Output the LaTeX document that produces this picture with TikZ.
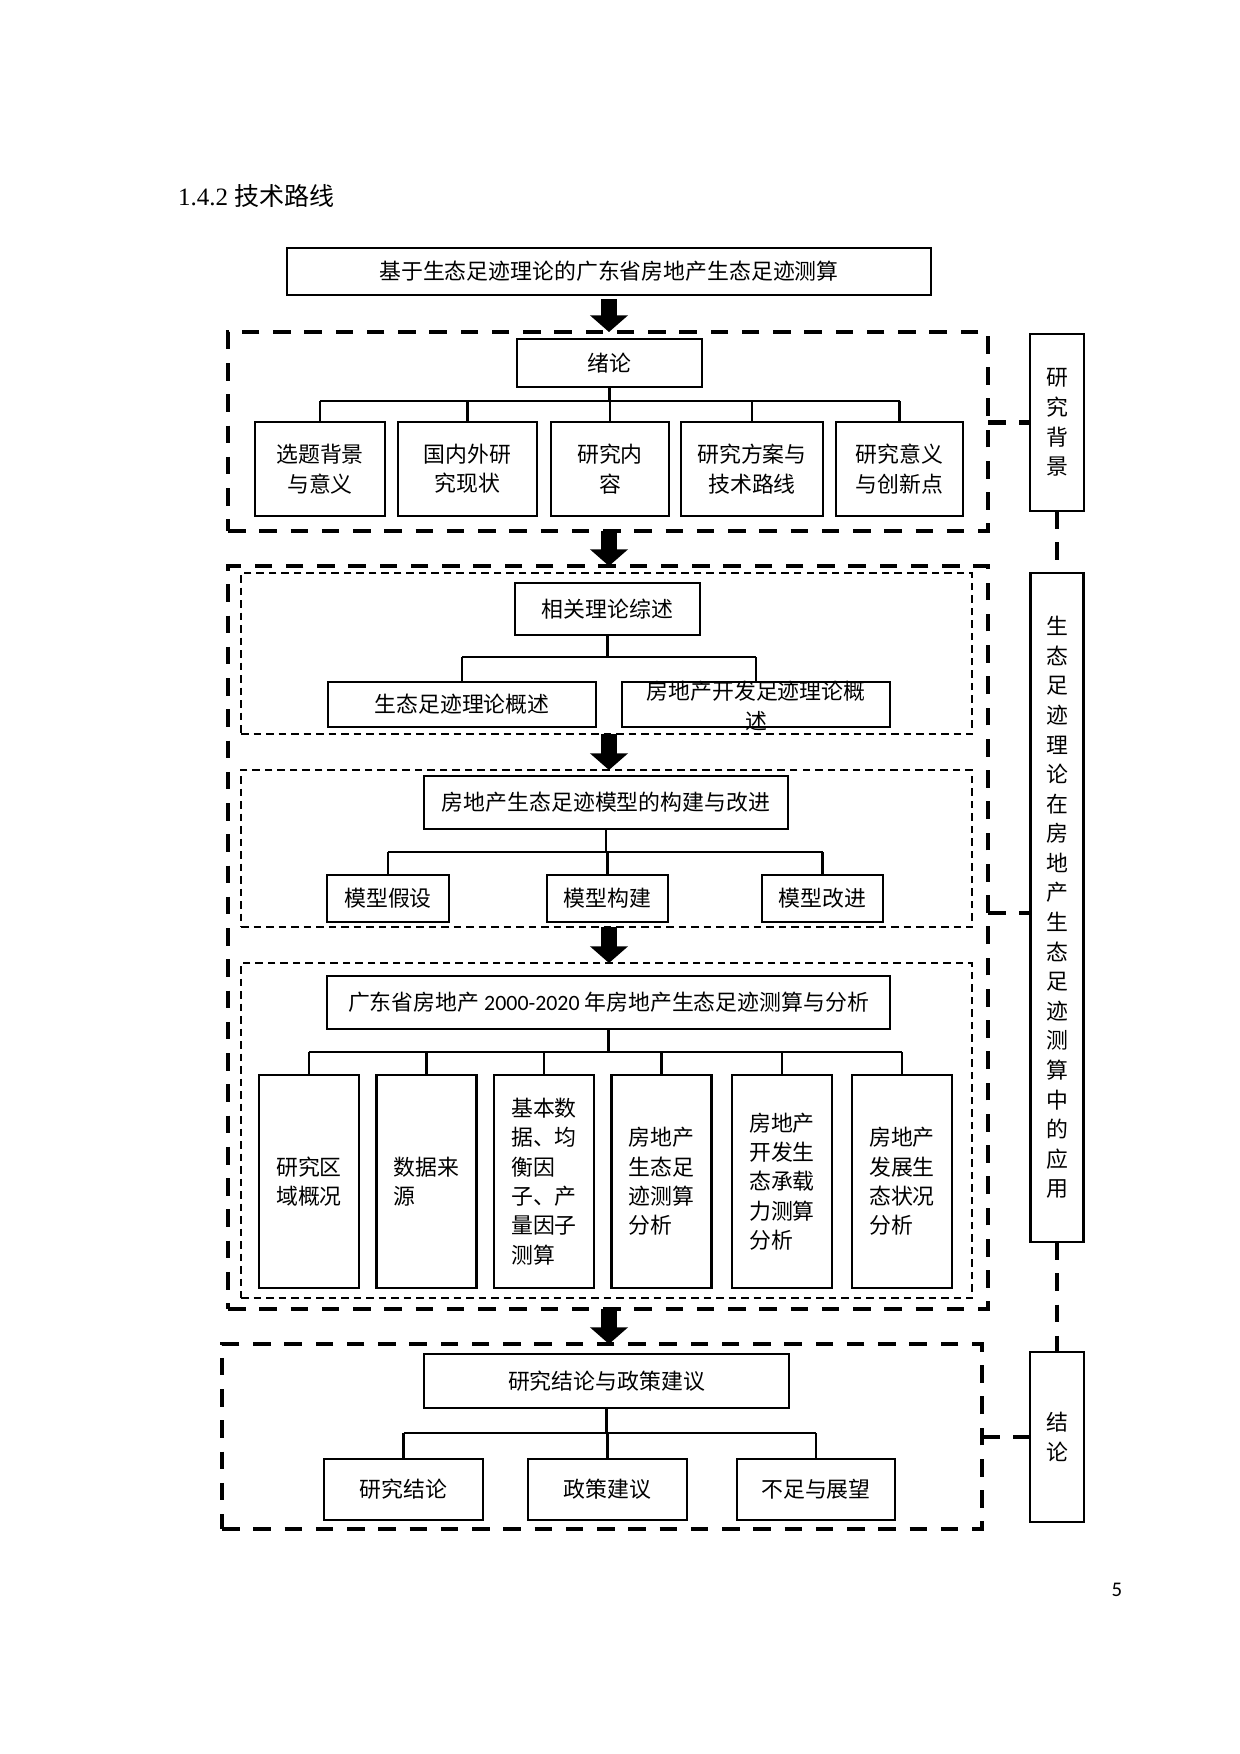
\documentclass[tikz,border=0pt]{standalone}
\usepackage{fontspec}
\setmainfont{Liberation Serif}
\newfontfamily\cjk{Noto Sans CJK SC}
\newfontfamily\calib{Carlito}
\usetikzlibrary{arrows.meta}
\def\pxu{0.48pt}
\begin{document}
\begin{tikzpicture}[x=0.48pt,y=-0.48pt,
  every node/.style={inner sep=0pt, outer sep=0pt},
  txt/.style={font=\cjk\fontsize{10.5}{14.1}\selectfont},
  box/.style={draw, line width=1pt, txt, align=center},
  lbox/.style={draw, line width=1pt, txt, align=left},
  vbox/.style={draw, line width=1pt, font=\cjk\fontsize{10.5}{14.2}\selectfont, align=center},
  thickdash/.style={draw, line width=2pt, dash pattern=on 8.5pt off 6.5pt},
  thindash/.style={draw, line width=0.75pt, dash pattern=on 3.6pt off 2.4pt},
  sidedash/.style={line width=2pt, dash pattern=on 8.5pt off 6.5pt},
  conn/.style={line width=1pt},
  bigarrow/.style={line width=7.6pt, -{Triangle[width=17.8pt,length=8pt]}}
]
\fill[white] (0,0) rectangle (1240,1754);
\useasboundingbox (0,0) rectangle (1240,1754);

% heading and page number
\node[anchor=base west, font=\fontsize{12}{14}\selectfont] (heading) at (178,205) {1.4.2 {\cjk 技术路线}};
\node[anchor=base, font=\calib\fontsize{10}{12}\selectfont] (pnum) at (1117,1596) {5};

% title
\node[box, minimum width=644*\pxu, minimum height=47*\pxu] (title) at (609,271.5) {基于生态足迹理论的广东省房地产生态足迹测算};

% ---------- block 1 ----------
\node[thickdash, minimum width=760*\pxu, minimum height=199*\pxu] (b1) at (608,431.5) {};
\node[box, minimum width=185*\pxu, minimum height=48*\pxu] (xulun) at (609.5,363) {绪论};
\node[box, minimum width=130*\pxu, minimum height=94*\pxu] (c11) at (320,469) {选题背景\\与意义};
\node[box, minimum width=139*\pxu, minimum height=94*\pxu] (c12) at (467.5,469) {国内外研\\究现状};
\node[box, minimum width=118*\pxu, minimum height=94*\pxu] (c13) at (610,469) {研究内\\容};
\node[box, minimum width=142*\pxu, minimum height=94*\pxu] (c14) at (752,469) {研究方案与\\技术路线};
\node[box, minimum width=127*\pxu, minimum height=94*\pxu] (c15) at (899.5,469) {研究意义\\与创新点};
\coordinate (bar1) at (609,401);
\draw[conn] (xulun.south) -- (xulun.south |- bar1);
\draw[conn] (bar1 -| c11.north) -- (bar1 -| c15.north);
\foreach \c in {c11,c12,c13,c14,c15} \draw[conn] (bar1 -| \c.north) -- (\c.north);

% ---------- block 2 ----------
\node[thickdash, minimum width=760*\pxu, minimum height=743*\pxu] (b2) at (608,937.5) {};

% inner A
\node[thindash, minimum width=731*\pxu, minimum height=161*\pxu] (iA) at (606.5,653.5) {};
\node[box, minimum width=185*\pxu, minimum height=52*\pxu] (lilun) at (607.5,609) {相关理论综述};
\node[box, minimum width=268*\pxu, minimum height=45*\pxu] (r1) at (462,704.5) {生态足迹理论概述};
\node[draw, line width=1pt, minimum width=268*\pxu, minimum height=45*\pxu] (r2) at (756,704.5) {};
\node[txt, align=center] (r2t) at (756,706) {房地产开发足迹理论概\\述};
\coordinate (bar2) at (607.5,657);
\draw[conn] (lilun.south) -- (lilun.south |- bar2);
\draw[conn] (bar2 -| r1.north) -- (bar2 -| r2.north);
\foreach \c in {r1,r2} \draw[conn] (bar2 -| \c.north) -- (\c.north);

% inner B
\node[thindash, minimum width=731*\pxu, minimum height=157*\pxu] (iB) at (606.5,848.5) {};
\node[box, minimum width=364*\pxu, minimum height=53*\pxu] (moxing) at (606,802.5) {房地产生态足迹模型的构建与改进};
\node[box, minimum width=122*\pxu, minimum height=47*\pxu] (m1) at (388,898.5) {模型假设};
\node[box, minimum width=121*\pxu, minimum height=47*\pxu] (m2) at (607.5,898.5) {模型构建};
\node[box, minimum width=121*\pxu, minimum height=47*\pxu] (m3) at (822.5,898.5) {模型改进};
\coordinate (bar3) at (606,852);
\draw[conn] (moxing.south) -- (moxing.south |- bar3);
\draw[conn] (bar3 -| m1.north) -- (bar3 -| m3.north);
\foreach \c in {m1,m2,m3} \draw[conn] (bar3 -| \c.north) -- (\c.north);

% inner C
\node[thindash, minimum width=731*\pxu, minimum height=335*\pxu] (iC) at (606.5,1130.5) {};
\node[box, minimum width=563*\pxu, minimum height=53*\pxu] (gd) at (608.5,1002.5) {广东省房地产 {\calib 2000-2020} 年房地产生态足迹测算与分析};
\node[lbox, minimum width=100*\pxu, minimum height=213*\pxu] (d1) at (309,1181.5) {研究区\\域概况};
\node[lbox, minimum width=100*\pxu, minimum height=213*\pxu] (d2) at (426.5,1181.5) {数据来\\源};
\node[lbox, minimum width=100*\pxu, minimum height=213*\pxu] (d3) at (544,1181.5) {基本数\\据、均\\衡因\\子、产\\量因子\\测算};
\node[lbox, minimum width=100*\pxu, minimum height=213*\pxu] (d4) at (661.5,1181.5) {房地产\\生态足\\迹测算\\分析};
\node[lbox, minimum width=100*\pxu, minimum height=213*\pxu] (d5) at (782,1181.5) {房地产\\开发生\\态承载\\力测算\\分析};
\node[lbox, minimum width=100*\pxu, minimum height=213*\pxu] (d6) at (902,1181.5) {房地产\\发展生\\态状况\\分析};
\coordinate (bar4) at (608.5,1052);
\draw[conn] (gd.south) -- (gd.south |- bar4);
\draw[conn] (bar4 -| d1.north) -- (bar4 -| d6.north);
\foreach \c in {d1,d2,d3,d4,d5,d6} \draw[conn] (bar4 -| \c.north) -- (\c.north);

% ---------- block 3 ----------
\node[thickdash, minimum width=760*\pxu, minimum height=185*\pxu] (b3) at (602,1436.5) {};
\node[box, minimum width=365*\pxu, minimum height=54*\pxu] (jl) at (606.5,1381) {研究结论与政策建议};
\node[box, minimum width=159*\pxu, minimum height=61*\pxu] (e1) at (403.5,1489.5) {研究结论};
\node[box, minimum width=159*\pxu, minimum height=61*\pxu] (e2) at (607.5,1489.5) {政策建议};
\node[box, minimum width=158*\pxu, minimum height=61*\pxu] (e3) at (816,1489.5) {不足与展望};
\coordinate (bar5) at (606.5,1433);
\draw[conn] (jl.south) -- (jl.south |- bar5);
\draw[conn] (bar5 -| e1.north) -- (bar5 -| e3.north);
\foreach \c in {e1,e2,e3} \draw[conn] (bar5 -| \c.north) -- (\c.north);

% ---------- side boxes ----------
\node[vbox, minimum width=54*\pxu, minimum height=177*\pxu] (s1) at (1057,422.5) {研\\究\\背\\景};
\node[vbox, minimum width=53*\pxu, minimum height=669*\pxu] (s2) at (1057,907.5) {生\\态\\足\\迹\\理\\论\\在\\房\\地\\产\\生\\态\\足\\迹\\测\\算\\中\\的\\应\\用};
\node[vbox, minimum width=54*\pxu, minimum height=170*\pxu] (s3) at (1057,1437) {结\\论};

\draw[sidedash] (s1.west -| b1.east) -- (s1.west);
\draw[sidedash] ([yshift=-2.6pt]s2.west -| b2.east) -- ([yshift=-2.6pt]s2.west);
\draw[sidedash] (s3.west -| b3.east) -- (s3.west);
\draw[sidedash] (s1.south) -- (s2.north);
\draw[sidedash] (s2.south) -- (s3.north);

% ---------- big arrows ----------
\draw[bigarrow, shorten <=2pt] (title.south) -- (title.south |- b1.north);
\draw[bigarrow] (b1.south -| title.south) -- (b2.north -| title.south);
\draw[bigarrow] (iA.south -| title.south) -- (iB.north -| title.south);
\draw[bigarrow] (iB.south -| title.south) -- (iC.north -| title.south);
\draw[bigarrow] (b2.south -| title.south) -- (b3.north -| title.south);
\end{tikzpicture}
\end{document}
